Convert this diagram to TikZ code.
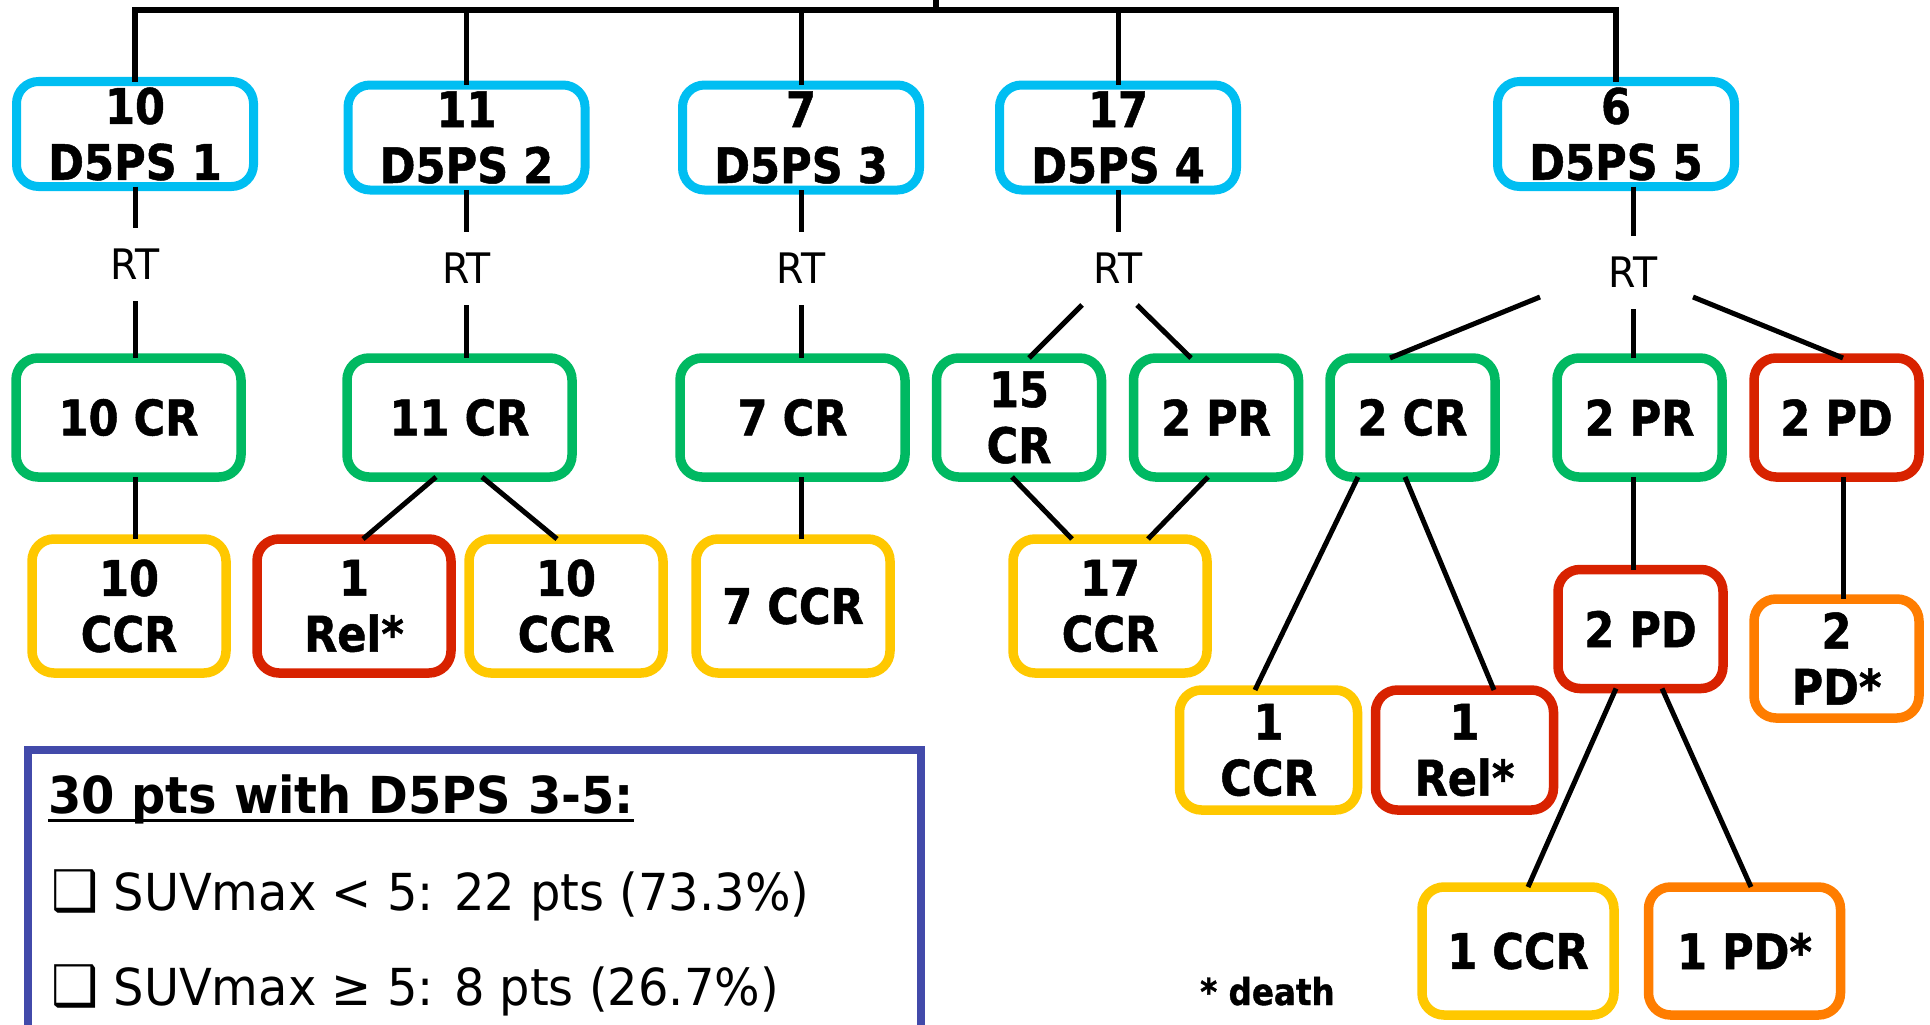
\documentclass[tikz,border=0pt]{standalone}
\usepackage{fontspec}
\setmainfont{DejaVu Sans}
\newfontfamily\boxfont{DejaVu Sans}[FakeStretch=0.88, BoldFeatures={FakeBold=1}]
\newfontfamily\plainfont{DejaVu Sans}[FakeStretch=0.94]

\definecolor{psblue}{RGB}{0,190,242}
\definecolor{crgreen}{RGB}{0,185,98}
\definecolor{ccryellow}{RGB}{255,200,0}
\definecolor{pdred}{RGB}{216,34,0}
\definecolor{deathorange}{RGB}{255,125,0}
\definecolor{framebar}{RGB}{66,74,170}

\tikzset{
  outcome/.style={draw, line width=9.5, rounded corners=22, inner sep=0, outer sep=0,
    align=center, font={\boxfont\bfseries\fontsize{49}{56}\selectfont}},
  psbox/.style={outcome, draw=psblue, line width=9, minimum width=237, minimum height=105},
  crbox/.style={outcome, draw=crgreen},
  ccrbox/.style={outcome, draw=ccryellow},
  relbox/.style={outcome, draw=pdred},
  deadbox/.style={outcome, draw=deathorange},
  wide/.style={minimum width=225, minimum height=119},
  slim/.style={minimum width=165, minimum height=119},
  tall/.style={minimum width=194, minimum height=134},
  rt/.style={inner xsep=0, inner ysep=21, font={\plainfont\fontsize{42}{50}\selectfont}},
  link/.style={line width=5},
  bar/.style={line width=5.5},
}

\begin{document}
\begin{tikzpicture}[x=1pt, y=-1pt]
  \useasboundingbox (0,0) rectangle (1930,1025);

  % D5PS groups
  \node[psbox] (ps1) at (135,134) {10\\D5PS 1};
  \node[psbox] (ps2) at (466.5,137.5) {11\\D5PS 2};
  \node[psbox] (ps3) at (801,137.5) {7\\D5PS 3};
  \node[psbox] (ps4) at (1118,137.5) {17\\D5PS 4};
  \node[psbox] (ps5) at (1616,134) {6\\D5PS 5};

  % RT labels
  \node[rt] (rt1) at (135,264.5) {RT};
  \node[rt] (rt2) at (466.5,268.5) {RT};
  \node[rt] (rt3) at (801,268.5) {RT};
  \node[rt] (rt4) at (1118,268.5) {RT};
  \node[rt] (rt5) at (1633,272.5) {RT};

  % response after RT
  \node[crbox, wide] (cr1) at (128.5,417.5) {10 CR};
  \node[crbox, wide] (cr2) at (459.5,417.5) {11 CR};
  \node[crbox, wide] (cr3) at (792.5,417.5) {7 CR};
  \node[crbox, slim] (cr4) at (1019,417.5) {15\\CR};
  \node[crbox, slim] (pr4) at (1216,417.5) {2 PR};
  \node[crbox, slim] (cr5) at (1412.5,417.5) {2 CR};
  \node[crbox, slim] (pr5) at (1639.5,417.5) {2 PR};
  \node[relbox, slim] (pd5) at (1836.5,417.5) {2 PD};

  % follow-up
  \node[ccrbox, tall] (ccr1) at (129,606) {10\\CCR};
  \node[relbox, tall] (rel2) at (354,606) {1\\Rel*};
  \node[ccrbox, tall] (ccr2) at (566,606) {10\\CCR};
  \node[ccrbox, tall] (ccr3) at (793,606) {7 CCR};
  \node[ccrbox, tall] (ccr4) at (1110,606) {17\\CCR};
  \node[relbox, slim] (pd6) at (1640.5,629) {2 PD};
  \node[deadbox, slim] (pds5) at (1836.5,658.5) {2\\PD*};
  \node[ccrbox, minimum width=178, minimum height=120] (ccr5) at (1268.5,750) {1\\CCR};
  \node[relbox, minimum width=178, minimum height=120] (rel5) at (1464.5,750) {1\\Rel*};
  \node[ccrbox, minimum width=192, minimum height=128] (ccr6) at (1518,951) {1 CCR};
  \node[deadbox, minimum width=192, minimum height=128] (pds6) at (1744.5,951) {1 PD*};

  \node[anchor=base west, inner sep=0, font={\boxfont\bfseries\fontsize{37}{44}\selectfont}] (death) at (1200,1005) {* death};

  % summary box
  \node[draw=framebar, line width=7.5, inner sep=0, outer sep=0, anchor=north west,
    minimum width=893, minimum height=320] (frame) at (28,750) {};
  \node[anchor=base west, inner sep=0, font={\plainfont\bfseries\fontsize{51}{60}\selectfont}] (head) at (48,813) {30 pts with D5PS 3-5:};
  \node[anchor=base west, inner sep=0, font={\plainfont\fontsize{51}{60}\selectfont}] (suvlow) at (51,910) {{\fontsize{56}{60}\selectfont ❑} SUVmax < 5: 22 pts (73.3\%)};
  \node[anchor=base west, inner sep=0, font={\plainfont\fontsize{51}{60}\selectfont}] (suvhigh) at (51,1005) {{\fontsize{56}{60}\selectfont ❑} SUVmax ≥ 5: 8 pts (26.7\%)};
  \draw[line width=3] ([yshift=-7]head.base west) -- ([yshift=-7]head.base east);

  % top bar
  \coordinate (root) at (936,10);
  \coordinate (rootup) at (936,0);
  \draw[bar] (ps1.north) -- (ps1.north |- root) -- (ps5.north |- root) -- (ps5.north);
  \draw[bar] (root) -- (rootup);
  \foreach \n in {ps2,ps3,ps4}
    \draw[link] (\n.north) -- (\n.north |- root);

  % straight edges
  \foreach \a/\b in {ps1/rt1, ps2/rt2, ps3/rt3, ps4/rt4}
    \draw[link] (\a.south) -- (\b.north);
  \draw[link] (rt5.north |- ps5.south) -- (rt5.north);
  \foreach \r/\c in {rt1/cr1, rt2/cr2, rt3/cr3, rt5/pr5}
    \draw[link] (\r.south) -- (\r.south |- \c.north);
  \foreach \r/\a/\b in {rt1/cr1/ccr1, rt3/cr3/ccr3, rt5/pr5/pd6}
    \draw[link] (\r.south |- \a.south) -- (\r.south |- \b.north);
  \draw[link] ([xshift=6.5]pd5.south) -- ([xshift=6.5]pds5.north);

  % slanted edges
  \draw[link] ([xshift=-36]rt4.south) -- ([xshift=10]cr4.north);
  \draw[link] ([xshift=19]rt4.south) -- ([xshift=-25]pr4.north);
  \draw[link] ([shift={(-93,-12)}]rt5.south) -- ([xshift=-22.5]cr5.north);
  \draw[link] ([shift={(60,-12)}]rt5.south) -- ([xshift=6.5]pd5.north);
  \foreach \a/\da/\b/\db in {cr2/-23.5/rel2/9, cr2/22.5/ccr2/-9, cr4/-7/ccr4/-38, pr4/-8/ccr4/38,
      cr5/-54.5/ccr5/-13.5, cr5/-7.5/rel5/29.5, pd6/-24.5/ccr6/10, pd6/21.5/pds6/6.5}
    \draw[link] ([xshift=\da]\a.south) -- ([xshift=\db]\b.north);

\end{tikzpicture}
\end{document}
